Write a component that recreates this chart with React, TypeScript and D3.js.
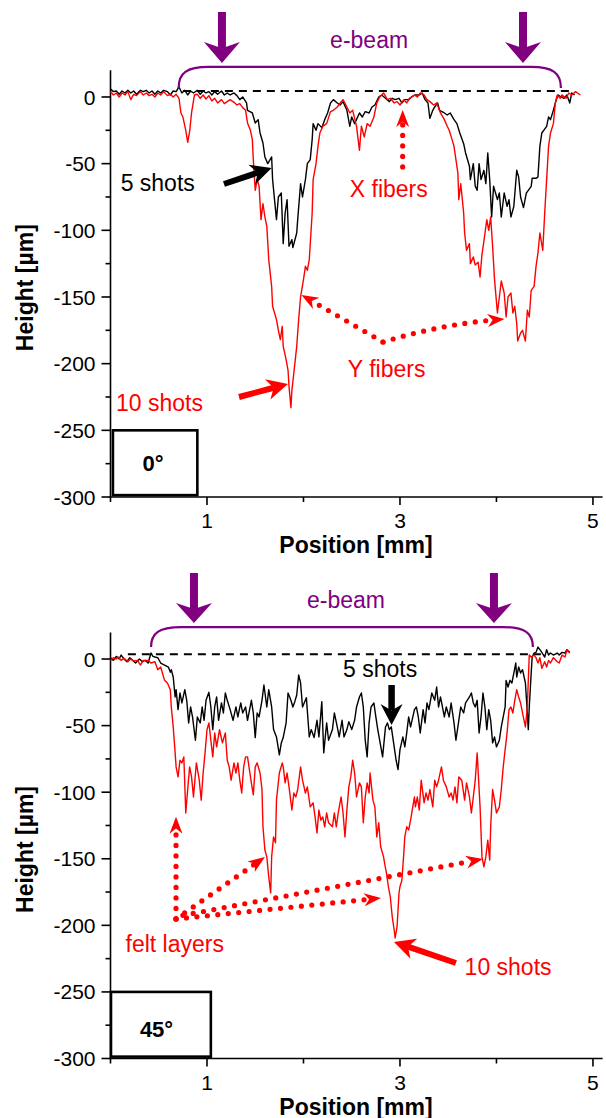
import React from 'react';
import * as d3 from 'd3';

type Pt = [number, number];

// position [mm], height [µm]

// 0° panel
const top5Shots: Pt[] = [
  [0.00,6],[0.03,4],[0.06,4.5],[0.09,2],[0.12,4.5],[0.15,3],[0.18,5],[0.21,3],[0.24,4.5],[0.27,2],[0.31,5],[0.34,4],[0.37,5],[0.40,3],[0.43,4.5],[0.46,2],[0.49,4.5],[0.52,3],[0.55,5],[0.59,4],[0.62,1.5],[0.65,4.5],[0.68,4],[0.71,7.5],[0.74,3],[0.77,5],[0.80,1.5],[0.83,4.5],[0.86,3],[0.90,5],[0.93,2],[0.96,4.5],[0.99,3],[1.02,4],[1.05,1.5],[1.08,4],[1.11,2],[1.15,4.5],[1.18,1.5],[1.21,3],[1.24,1.5],[1.28,3],[1.31,1],[1.34,-2],[1.37,0],[1.41,-4.5],[1.42,-10],[1.47,-12],[1.50,-19.5],[1.53,-17],[1.55,-27],[1.58,-34.5],[1.60,-45],[1.63,-50],[1.67,-45],[1.68,-62],[1.72,-92],[1.74,-75],[1.77,-72],[1.79,-110],[1.81,-87],[1.83,-77],[1.85,-112],[1.88,-107],[1.89,-113],[1.93,-102],[1.94,-92],[1.97,-65],[1.99,-75],[2.02,-62],[2.04,-50],[2.07,-47],[2.09,-32],[2.10,-20],[2.13,-25],[2.15,-20],[2.19,-23],[2.22,-17],[2.25,-12],[2.28,-4.5],[2.31,-2],[2.35,-4.5],[2.38,-6],[2.41,-3.5],[2.45,-10],[2.48,-22],[2.50,-15],[2.53,-20],[2.58,-12],[2.61,-15],[2.64,-11],[2.68,-12],[2.71,-7.5],[2.74,-6],[2.78,0],[2.81,1.5],[2.85,-1],[2.89,-3.5],[2.92,-1],[2.95,-2],[2.99,-1],[3.02,-4.5],[3.05,-2],[3.09,-2],[3.12,0],[3.16,1.5],[3.20,1.5],[3.23,3],[3.26,-2],[3.29,-4.5],[3.31,-16],[3.34,-10],[3.36,-7.5],[3.39,-4.5],[3.41,-10],[3.46,-12],[3.49,-13.5],[3.52,-12],[3.56,-17],[3.59,-20],[3.62,-27],[3.66,-35],[3.68,-42],[3.72,-52],[3.73,-62],[3.76,-50],[3.78,-67],[3.80,-70],[3.82,-50],[3.84,-62],[3.87,-55],[3.89,-65],[3.91,-42],[3.93,-62],[3.95,-90],[3.97,-67],[4.01,-77],[4.03,-72],[4.05,-90],[4.08,-72],[4.11,-82],[4.13,-77],[4.15,-90],[4.18,-82],[4.21,-55],[4.23,-60],[4.25,-75],[4.28,-83],[4.31,-72],[4.33,-70],[4.36,-67],[4.37,-61],[4.41,-61],[4.43,-60],[4.45,-37],[4.47,-27],[4.49,-25],[4.52,-22],[4.54,-15],[4.56,-17],[4.59,-10],[4.62,-2],[4.64,1.5],[4.67,0],[4.70,-1],[4.73,1.5],[4.76,-4.5],[4.78,3],[4.81,1.5]
];

const top10Shots: Pt[] = [
  [0.00,4],[0.03,1.5],[0.06,3],[0.09,0],[0.12,3],[0.15,1.5],[0.18,4],[0.21,-2],[0.24,2],[0.27,1],[0.31,4],[0.34,1.5],[0.37,3],[0.40,1],[0.43,2],[0.46,0],[0.49,3],[0.52,1.5],[0.55,4],[0.59,1],[0.62,2],[0.65,0],[0.68,2],[0.71,-1],[0.73,-12],[0.75,-15],[0.78,-25],[0.80,-34],[0.82,-26],[0.84,-12],[0.87,1.5],[0.90,2],[0.93,-1],[0.96,1.5],[0.99,-1.5],[1.02,1],[1.05,-3],[1.08,-1],[1.11,-4.5],[1.15,-2],[1.18,-5],[1.21,-3.5],[1.24,-2],[1.28,-4],[1.31,-6],[1.34,-5],[1.37,-8],[1.40,-10],[1.42,-19.5],[1.45,-25],[1.47,-32],[1.48,-47],[1.50,-70],[1.52,-62],[1.54,-67],[1.56,-92],[1.58,-80],[1.60,-90],[1.62,-97],[1.64,-122],[1.67,-142],[1.68,-157],[1.72,-167],[1.74,-175],[1.76,-182],[1.78,-172],[1.79,-187],[1.82,-197],[1.84,-205],[1.85,-217],[1.87,-233],[1.88,-220],[1.90,-207],[1.93,-187],[1.95,-167],[1.97,-150],[2.00,-137],[2.02,-127],[2.04,-130],[2.06,-122],[2.09,-87],[2.10,-62],[2.13,-50],[2.15,-37],[2.17,-27],[2.20,-22],[2.24,-20],[2.28,-11],[2.31,-10],[2.35,-7.5],[2.38,-4.5],[2.41,-2],[2.45,-7.5],[2.48,-12],[2.51,-10],[2.55,-22],[2.58,-40],[2.60,-22],[2.63,-30],[2.66,-20],[2.69,-22],[2.73,-15],[2.76,-4.5],[2.79,0],[2.83,3],[2.87,-2],[2.90,-1],[2.94,-4.5],[2.97,-3.5],[3.00,-6],[3.04,-2],[3.07,-4.5],[3.10,-1],[3.15,1.5],[3.18,0],[3.21,3],[3.25,1.5],[3.28,-2],[3.31,-3.5],[3.35,-6],[3.38,-4.5],[3.42,-12],[3.46,-17],[3.49,-22],[3.51,-25],[3.54,-32],[3.56,-37],[3.58,-47],[3.60,-57],[3.61,-77],[3.63,-65],[3.66,-87],[3.67,-102],[3.69,-115],[3.72,-110],[3.73,-125],[3.76,-120],[3.78,-126],[3.81,-124],[3.83,-135],[3.85,-118],[3.87,-108],[3.90,-92],[3.92,-100],[3.94,-90],[3.96,-112],[3.98,-137],[4.01,-162],[4.03,-150],[4.05,-138],[4.08,-147],[4.10,-165],[4.12,-150],[4.15,-147],[4.17,-162],[4.19,-157],[4.21,-170],[4.22,-183],[4.25,-177],[4.27,-175],[4.30,-183],[4.32,-160],[4.34,-165],[4.36,-145],[4.39,-142],[4.41,-127],[4.43,-117],[4.45,-102],[4.48,-115],[4.50,-87],[4.52,-62],[4.54,-37],[4.56,-27],[4.59,-20],[4.61,-4.5],[4.63,1.5],[4.66,-1],[4.68,1.5],[4.72,-1],[4.75,3],[4.78,1.5],[4.82,4],[4.84,3],[4.87,1.5]
];

// 45° panel
const bot5Shots: Pt[] = [
  [0.00,1],[0.03,-1],[0.06,2],[0.09,0],[0.11,3],[0.14,0],[0.17,-2],[0.20,1],[0.23,-1],[0.26,-3],[0.30,0],[0.33,-2],[0.36,-1],[0.39,-3],[0.42,4.5],[0.44,2],[0.46,1.5],[0.49,1],[0.52,-3],[0.56,-4.5],[0.60,-6],[0.62,-10],[0.63,-8],[0.65,-13.5],[0.67,-28.5],[0.68,-23],[0.70,-38],[0.72,-25.5],[0.74,-33],[0.77,-23],[0.79,-31],[0.81,-48],[0.83,-36],[0.85,-43.5],[0.88,-61],[0.90,-43.5],[0.93,-48],[0.95,-36],[0.97,-46],[0.99,-31],[1.02,-25],[1.04,-36],[1.06,-53],[1.08,-36],[1.10,-28.5],[1.12,-46],[1.15,-33],[1.17,-40.5],[1.19,-25.5],[1.21,-31],[1.24,-38],[1.27,-46],[1.30,-36],[1.32,-43.5],[1.35,-33],[1.37,-40.5],[1.40,-36],[1.42,-46],[1.46,-31],[1.48,-40.5],[1.50,-59],[1.52,-40.5],[1.54,-43.5],[1.57,-31],[1.59,-19.5],[1.62,-36],[1.64,-23],[1.67,-36],[1.69,-53],[1.72,-58.5],[1.75,-72],[1.77,-63],[1.79,-59],[1.82,-48],[1.84,-25.5],[1.87,-31],[1.89,-36],[1.91,-32],[1.93,-27],[1.95,-12],[1.97,-18],[1.99,-36],[2.03,-29],[2.06,-58.5],[2.08,-53],[2.11,-59],[2.14,-46],[2.16,-58.5],[2.19,-32],[2.21,-70.5],[2.24,-48],[2.26,-61],[2.30,-53],[2.32,-40.5],[2.35,-51],[2.37,-58.5],[2.40,-46],[2.42,-58.5],[2.45,-53],[2.47,-47],[2.50,-53],[2.53,-46],[2.55,-36],[2.58,-28.5],[2.60,-25.5],[2.62,-36],[2.64,-61],[2.66,-73.5],[2.68,-48],[2.70,-36],[2.73,-33],[2.75,-43.5],[2.77,-53],[2.79,-61],[2.82,-73.5],[2.85,-51],[2.87,-48],[2.89,-53],[2.91,-51],[2.94,-66],[2.96,-76],[2.98,-83],[3.00,-68],[3.03,-58.5],[3.05,-66],[3.07,-55.5],[3.09,-43.5],[3.11,-51],[3.15,-38],[3.17,-36],[3.19,-43.5],[3.21,-55.5],[3.24,-38],[3.26,-48],[3.28,-33],[3.30,-38],[3.33,-25.5],[3.36,-31],[3.38,-21],[3.40,-36],[3.42,-28.5],[3.46,-43.5],[3.48,-36],[3.51,-43.5],[3.53,-33],[3.56,-48],[3.58,-61],[3.61,-46],[3.63,-36],[3.66,-40.5],[3.68,-33],[3.72,-28.5],[3.74,-25.5],[3.76,-33],[3.78,-36],[3.80,-31],[3.82,-55.5],[3.84,-43.5],[3.86,-25.5],[3.88,-36],[3.90,-53],[3.92,-38],[3.94,-46],[3.96,-63],[3.98,-58.5],[4.00,-66],[4.03,-61],[4.05,-51],[4.07,-43.5],[4.09,-36],[4.10,-16],[4.12,-21],[4.14,-16],[4.16,-18],[4.18,-10.5],[4.20,-3],[4.21,-13.5],[4.23,-6],[4.25,-10.5],[4.27,-8],[4.30,-18],[4.32,-40.5],[4.33,-53],[4.34,-36],[4.36,-10.5],[4.37,1.5],[4.39,4.5],[4.41,5],[4.43,9],[4.45,7],[4.47,5],[4.50,1.5],[4.52,7],[4.54,3],[4.56,4.5],[4.59,3],[4.63,4.5],[4.65,3],[4.68,5],[4.71,4.5],[4.73,7],[4.76,5]
];

const bot10Shots: Pt[] = [
  [0.00,-1],[0.03,1],[0.06,0],[0.08,1.5],[0.11,-1],[0.14,0.5],[0.18,-2],[0.21,0],[0.24,-1.5],[0.28,-1],[0.31,-4.5],[0.34,-1],[0.39,-1],[0.42,-3],[0.46,-2],[0.49,-8],[0.52,-6],[0.56,-16],[0.59,-18],[0.62,-23],[0.63,-36],[0.65,-51],[0.67,-70.5],[0.68,-81],[0.70,-88.5],[0.72,-76],[0.74,-78],[0.76,-73.5],[0.78,-115.6],[0.80,-98],[0.82,-81],[0.84,-88.5],[0.86,-103.6],[0.89,-78],[0.92,-91],[0.94,-106],[0.96,-85.6],[0.98,-70.5],[1.00,-53],[1.02,-48],[1.04,-61],[1.06,-73.5],[1.08,-55.5],[1.10,-66],[1.13,-53],[1.16,-63],[1.19,-55.5],[1.21,-76],[1.23,-81],[1.25,-91],[1.28,-78],[1.30,-85.6],[1.32,-78],[1.34,-91],[1.36,-100.6],[1.38,-81],[1.40,-73.5],[1.42,-73.5],[1.46,-93],[1.48,-102],[1.50,-81],[1.52,-78],[1.55,-85.6],[1.57,-98],[1.58,-126],[1.60,-143.4],[1.62,-148.6],[1.64,-163.6],[1.66,-175.7],[1.67,-148.6],[1.69,-133.6],[1.71,-138],[1.72,-106],[1.75,-85.6],[1.78,-78],[1.79,-81],[1.81,-93],[1.83,-85.6],[1.85,-96],[1.88,-113.4],[1.90,-100.6],[1.92,-103.6],[1.94,-98],[1.97,-81],[1.99,-91],[2.02,-100.6],[2.04,-96],[2.07,-111],[2.10,-108],[2.12,-118.6],[2.14,-130.6],[2.16,-113.4],[2.18,-121],[2.20,-118.6],[2.22,-126],[2.24,-115.6],[2.26,-123],[2.30,-126],[2.32,-115.6],[2.34,-126],[2.36,-115.6],[2.39,-103.6],[2.41,-115.6],[2.43,-133.6],[2.45,-113.4],[2.47,-96],[2.49,-88.5],[2.51,-76],[2.53,-85.6],[2.55,-103.6],[2.58,-93],[2.60,-96],[2.62,-123],[2.64,-103.6],[2.66,-93],[2.68,-100.6],[2.69,-85.6],[2.72,-106],[2.74,-111],[2.76,-133.6],[2.78,-123],[2.80,-141],[2.83,-148.6],[2.84,-153],[2.86,-160.7],[2.88,-171],[2.90,-178.7],[2.92,-193.7],[2.94,-203.5],[2.95,-209.5],[2.97,-201],[2.99,-175.7],[3.00,-171],[3.02,-166],[3.04,-145.6],[3.05,-133.6],[3.07,-126],[3.09,-128.4],[3.11,-121],[3.15,-103.6],[3.16,-111],[3.18,-103.6],[3.20,-113.4],[3.22,-91],[3.25,-108],[3.27,-100.6],[3.29,-106],[3.31,-98],[3.34,-111],[3.36,-91],[3.38,-96],[3.40,-91],[3.43,-81],[3.45,-91],[3.48,-96],[3.51,-103.6],[3.53,-100.6],[3.55,-106],[3.57,-96],[3.59,-108],[3.61,-88.5],[3.64,-91],[3.67,-106],[3.69,-93],[3.72,-103.6],[3.74,-115.6],[3.76,-103.6],[3.78,-91],[3.80,-70.5],[3.83,-111],[3.85,-148.6],[3.87,-156],[3.89,-148.6],[3.91,-136],[3.93,-151],[3.94,-126],[3.96,-98],[3.98,-106],[4.00,-115.6],[4.03,-111],[4.05,-98],[4.07,-81],[4.09,-68],[4.11,-55.5],[4.13,-38],[4.15,-36],[4.17,-40.5],[4.19,-31],[4.21,-23],[4.23,-28.5],[4.25,-33],[4.27,-40.5],[4.30,-51],[4.32,-36],[4.33,-16],[4.34,3],[4.36,1.5],[4.39,3],[4.41,1],[4.43,-3],[4.45,1],[4.47,-7],[4.50,-2],[4.52,-6],[4.54,-1],[4.56,-3],[4.59,1],[4.63,-2],[4.65,-3],[4.68,3],[4.71,1.5],[4.73,7],[4.76,4.5]
];

const xMajorTicks = [1, 3, 5];
const xMinorTicks = [0, 2, 4];
const yMajorTicks = [0, -50, -100, -150, -200, -250, -300];
const yMinorTicks = [-25, -75, -125, -175, -225, -275];

const FONT = "'Liberation Sans', Arial, Helvetica, sans-serif";
const PURPLE = '#800080';
const RED = '#ff0000';

const x = d3.scaleLinear().domain([0, 5.1]).range([110.5, 602.6]);
const yTop = d3.scaleLinear().domain([-300, 20]).range([497, 70.3]);
const yBot = d3.scaleLinear().domain([-300, 20]).range([1058.5, 632.4]);

type YS = d3.ScaleLinear<number, number>;

// notched arrow head, returns path and point where the shaft should stop
function headOf(x1: number, y1: number, x2: number, y2: number, len: number, w: number) {
  const d = Math.hypot(x2 - x1, y2 - y1);
  const ux = (x2 - x1) / d, uy = (y2 - y1) / d;
  const bx = x2 - ux * len, by = y2 - uy * len;
  const nx = x2 - ux * len * 0.7, ny = y2 - uy * len * 0.7;
  const px = -uy * w / 2, py = ux * w / 2;
  return {
    path: `M${x2},${y2}L${bx + px},${by + py}L${nx},${ny}L${bx - px},${by - py}Z`,
    sx: nx, sy: ny,
  };
}

function Arrow({ x1, y1, x2, y2, color, width, len, w }: any) {
  const h = headOf(x1, y1, x2, y2, len, w);
  return (
    <g>
      <line x1={x1} y1={y1} x2={h.sx} y2={h.sy} stroke={color} strokeWidth={width} />
      <path d={h.path} fill={color} />
    </g>
  );
}

function DotArrow({ x1, y1, x2, y2, cx, cy, len = 17, w = 13 }: any) {
  const fx = cx ?? x1, fy = cy ?? y1;
  const h = headOf(fx, fy, x2, y2, len, w);
  const d = cx != null ? `M${x1},${y1}Q${cx},${cy} ${h.sx},${h.sy}` : `M${x1},${y1}L${h.sx},${h.sy}`;
  return (
    <g>
      <path d={d} fill="none" stroke={RED} strokeWidth={5.2} strokeLinecap="round" strokeDasharray="0 10.5" />
      <path d={h.path} fill={RED} />
    </g>
  );
}

function Bracket({ y, a, b, yEnd, yFlat }: { y: YS; a: number; b: number; yEnd: number; yFlat: number }) {
  const x0 = x(a), x1 = x(b), ye = y(yEnd), yf = y(yFlat);
  const r = 30;
  const d = `M${x0},${ye}C${x0},${yf + 6} ${x0 + 8},${yf} ${x0 + r},${yf}L${x1 - r},${yf}C${x1 - 8},${yf} ${x1},${yf + 6} ${x1},${ye}`;
  return <path d={d} fill="none" stroke={PURPLE} strokeWidth={2.2} />;
}

function BeamArrow({ y, at, top, base, tip }: { y: YS; at: number; top: number; base: number; tip: number }) {
  const h = headOf(x(at), y(top), x(at), y(tip), y(tip) - y(base), 36);
  return (
    <g>
      <line x1={x(at)} x2={x(at)} y1={y(top)} y2={h.sy} stroke={PURPLE} strokeWidth={8} />
      <path d={h.path} fill={PURPLE} />
    </g>
  );
}

function Axes({ y }: { y: YS }) {
  const x0 = x.range()[0], x1 = x.range()[1];
  const yb = y(-300), yt = y(20);
  return (
    <g fontFamily={FONT}>
      <g stroke="#000" strokeWidth={1.6}>
        <line x1={x0} x2={x0} y1={yt} y2={yb + 0.8} />
        <line x1={x0 - 0.8} x2={x1} y1={yb} y2={yb} />
        {yMajorTicks.map(v => <line key={'a' + v} x1={x0 - 9} x2={x0} y1={y(v)} y2={y(v)} />)}
        {yMinorTicks.map(v => <line key={'b' + v} x1={x0 - 5} x2={x0} y1={y(v)} y2={y(v)} />)}
        {xMajorTicks.map(v => <line key={'c' + v} x1={x(v)} x2={x(v)} y1={yb} y2={yb + 8} />)}
        {xMinorTicks.map(v => <line key={'d' + v} x1={x(v)} x2={x(v)} y1={yb} y2={yb + 5} />)}
      </g>
      {yMajorTicks.map(v => (
        <text key={'t' + v} x={x0 - 15} y={y(v)} dy="0.36em" textAnchor="end" fontSize={21}>{v}</text>
      ))}
      {xMajorTicks.map(v => (
        <text key={'u' + v} x={x(v)} y={yb + 31} textAnchor="middle" fontSize={21}>{v}</text>
      ))}
      <text x={356} y={yb + 56} textAnchor="middle" fontSize={23} fontWeight="bold">Position [mm]</text>
      <text transform={`translate(33,${(yt + yb) / 2 + 4}) rotate(-90)`} textAnchor="middle" fontSize={23} fontWeight="bold">Height [µm]</text>
    </g>
  );
}

function Traces({ y, black, red }: { y: YS; black: Pt[]; red: Pt[] }) {
  const line = d3.line<Pt>().x(d => x(d[0])).y(d => y(d[1]));
  return (
    <g fill="none" strokeWidth={1.4} strokeLinejoin="round">
      <path d={line(black) || ''} stroke="#000" />
      <path d={line(red) || ''} stroke={RED} />
    </g>
  );
}

function AngleBox({ y, a, b, label, lx, ly }: any) {
  return (
    <g>
      <rect x={x(a)} y={y(-250)} width={x(b) - x(a)} height={y(-298.6) - y(-250)} fill="#fff" stroke="#000" strokeWidth={2.6} />
      <text x={x(lx)} y={y(ly)} dy="0.36em" textAnchor="middle" fontFamily={FONT} fontSize={22} fontWeight="bold">{label}</text>
    </g>
  );
}

function TopPanel() {
  const y = yTop;
  return (
    <g>
      <Axes y={y} />
      <line x1={x(0.75)} x2={x(4.8)} y1={y(4.5)} y2={y(4.5)} stroke="#000" strokeWidth={2} strokeDasharray="8 6" />
      <Traces y={y} black={top5Shots} red={top10Shots} />
      <Bracket y={y} a={0.706} b={4.668} yEnd={6.75} yFlat={22.5} />
      <BeamArrow y={y} at={1.155} top={63.75} base={41.25} tip={25.5} />
      <BeamArrow y={y} at={4.275} top={63.75} base={41.25} tip={25.5} />
      <g fontFamily={FONT} fontSize={23}>
        <text x={x(2.68)} y={y(36.75)} textAnchor="middle" fill={PURPLE}>e-beam</text>
        <text x={x(0.105)} y={y(-70.5)} fill="#000">5 shots</text>
        <text x={x(2.48)} y={y(-75)} fill={RED}>X fibers</text>
        <text x={x(2.46)} y={y(-210)} fill={RED}>Y fibers</text>
        <text x={x(0.057)} y={y(-235.5)} fill={RED}>10 shots</text>
      </g>
      <Arrow x1={x(1.176)} y1={y(-65.25)} x2={x(1.67)} y2={y(-53.25)} color="#000" width={6} len={21} w={21} />
      <Arrow x1={x(1.332)} y1={y(-225)} x2={x(1.839)} y2={y(-215.25)} color={RED} width={6} len={21} w={21} />
      <DotArrow x1={x(3.028)} y1={y(-52.5)} x2={x(3.028)} y2={y(-9.75)} />
      <DotArrow x1={x(2.824)} y1={y(-183.75)} x2={x(1.979)} y2={y(-148.5)} />
      <DotArrow x1={x(2.824)} y1={y(-183.75)} cx={x(3.4)} cy={y(-171)} x2={x(4.083)} y2={y(-166.5)} />
      <AngleBox y={y} a={0.025} b={0.9} label="0°" lx={0.44} ly={-274.5} />
    </g>
  );
}

function BottomPanel() {
  const y = yBot;
  return (
    <g>
      <Axes y={y} />
      <line x1={x(0.18)} x2={x(4.46)} y1={y(3.5)} y2={y(3.5)} stroke="#000" strokeWidth={2} strokeDasharray="8 6" />
      <Traces y={y} black={bot5Shots} red={bot10Shots} />
      <Bracket y={y} a={0.42} b={4.378} yEnd={9} yFlat={24} />
      <BeamArrow y={y} at={0.865} top={64.6} base={42} tip={27} />
      <BeamArrow y={y} at={3.974} top={64.6} base={42} tip={27} />
      <g fontFamily={FONT} fontSize={23}>
        <text x={x(2.44)} y={y(38.3)} textAnchor="middle" fill={PURPLE}>e-beam</text>
        <text x={x(2.41)} y={y(-13.5)} fill="#000">5 shots</text>
        <text x={x(0.156)} y={y(-219.8)} fill={RED}>felt layers</text>
        <text x={x(3.67)} y={y(-237.3)} fill={RED}>10 shots</text>
      </g>
      <Arrow x1={x(2.913)} y1={y(-19.5)} x2={x(2.913)} y2={y(-49.6)} color="#000" width={6.5} len={21} w={22} />
      <Arrow x1={x(3.58)} y1={y(-228.3)} x2={x(2.938)} y2={y(-212.5)} color={RED} width={6} len={21} w={21} />
      <DotArrow x1={x(0.679)} y1={y(-195.2)} x2={x(0.679)} y2={y(-118.4)} />
      <DotArrow x1={x(0.679)} y1={y(-195.2)} x2={x(1.601)} y2={y(-148.7)} />
      <DotArrow x1={x(0.679)} y1={y(-195.2)} x2={x(2.803)} y2={y(-179.5)} />
      <DotArrow x1={x(0.75)} y1={y(-192.5)} x2={x(3.86)} y2={y(-150.2)} />
      <AngleBox y={y} a={0.005} b={1.04} label="45°" lx={0.477} ly={-277.8} />
    </g>
  );
}

export default function App() {
  return (
    <div>
      <style>{'body{margin:0}'}</style>
      <svg width={606} height={1118} style={{ display: 'block' }}>
        <rect width={606} height={1118} fill="#fff" />
        <TopPanel />
        <BottomPanel />
      </svg>
    </div>
  );
}
